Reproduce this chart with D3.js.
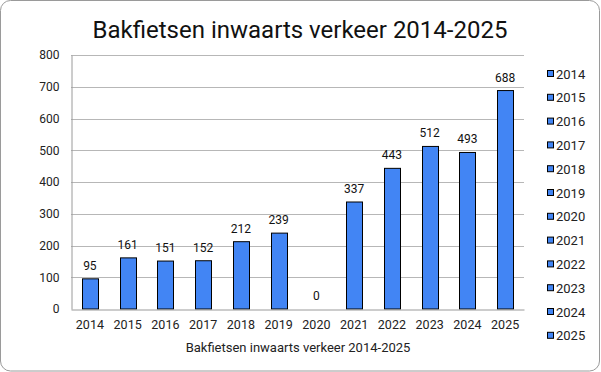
<!DOCTYPE html>
<html>
<head>
<meta charset="utf-8">
<script src="https://cdn.jsdelivr.net/npm/d3@7"></script>
<style>
  html, body { margin: 0; padding: 0; background: #fff; }
  svg { display: block; font-family: Roboto, sans-serif; }
</style>
</head>
<body>
<svg id="chart" width="601" height="372"></svg>
<script>
const years = ['2014', '2015', '2016', '2017', '2018', '2019', '2020', '2021', '2022', '2023', '2024', '2025']
const counts = [95, 161, 151, 152, 212, 239, 0, 337, 443, 512, 493, 688]
const yTicks = [0, 100, 200, 300, 400, 500, 600, 700, 800]
const title = 'Bakfietsen inwaarts verkeer 2014-2025'

const width = 601
const height = 372
const margin = { top: 55, right: 77, bottom: 63, left: 71 }
const BAR = '#4285f4'

const data = years.map((y, i) => ({ year: y, value: counts[i] }))
const svg = d3.select('#chart')

// frame
svg.append('rect')
    .attr('x', 0.5).attr('y', 0.5)
    .attr('width', width - 2).attr('height', height - 1.5)
    .attr('rx', 10).attr('ry', 10)
    .attr('fill', '#fff')
    .attr('stroke', '#9a9a9a')

const x = d3.scaleBand()
    .domain(years)
    .range([margin.left, width - margin.right])
    .paddingInner(0.58)
    .paddingOuter(0.29)

const y = d3.scaleLinear()
    .domain([0, 800])
    .range([height - margin.bottom, margin.top])

// grid
svg.append('g')
    .selectAll('line')
    .data(yTicks.filter(d => d > 0))
    .join('line')
    .attr('x1', margin.left).attr('x2', width - margin.right)
    .attr('y1', d => Math.round(y(d)) + 0.5).attr('y2', d => Math.round(y(d)) + 0.5)
    .attr('stroke', '#b7b7b7')

// y axis
const yAxis = svg.append('g')
    .attr('transform', `translate(${margin.left + 0.5},0)`)
    .call(d3.axisLeft(y).tickValues(yTicks).tickSize(0).tickPadding(12))
yAxis.select('.domain').attr('stroke', '#9a9a9a')
yAxis.selectAll('.tick text')
    .attr('fill', '#222').style('font-size', '12px').style('font-family', 'Roboto')

// bars
svg.append('g')
    .selectAll('rect')
    .data(data.filter(d => d.value > 0))
    .join('rect')
    .attr('x', d => Math.round(x(d.year)) + 0.5)
    .attr('width', Math.round(x.bandwidth()))
    .attr('y', d => y(d.value))
    .attr('height', d => y(0) - y(d.value))
    .attr('fill', BAR)
    .attr('stroke', '#000')
    .attr('stroke-width', 1)

// x axis
const xAxis = svg.append('g')
    .attr('transform', `translate(0,${Math.round(y(0)) + 0.5})`)
    .call(d3.axisBottom(x).tickSize(0).tickPadding(11))
xAxis.select('.domain').attr('stroke', '#9a9a9a')
xAxis.selectAll('.tick text')
    .attr('fill', '#222').style('font-size', '12.5px').style('font-family', 'Roboto')

// value labels
svg.append('g')
    .selectAll('text')
    .data(data)
    .join('text')
    .attr('x', d => x(d.year) + x.bandwidth() / 2)
    .attr('y', d => y(d.value) - 9)
    .attr('text-anchor', 'middle')
    .style('font-size', '12px')
    .attr('fill', '#111')
    .text(d => d.value)

// titles
svg.append('text')
    .attr('x', 300).attr('y', 38)
    .attr('text-anchor', 'middle')
    .style('font-size', '24px')
    .attr('fill', '#111')
    .text(title)

svg.append('text')
    .attr('x', 298).attr('y', 352)
    .attr('text-anchor', 'middle')
    .style('font-size', '13px')
    .attr('fill', '#222')
    .text(title)

// legend
const legend = svg.append('g')
    .selectAll('g')
    .data(years)
    .join('g')
    .attr('transform', (d, i) => `translate(547,${74 + i * 23.8})`)
legend.append('rect')
    .attr('x', 0.5).attr('y', -3.5)
    .attr('width', 6).attr('height', 6)
    .attr('fill', BAR).attr('stroke', '#000')
legend.append('text')
    .attr('x', 9).attr('y', 4.5)
    .style('font-size', '13px')
    .attr('fill', '#222')
    .text(d => d)
</script>
</body>
</html>
